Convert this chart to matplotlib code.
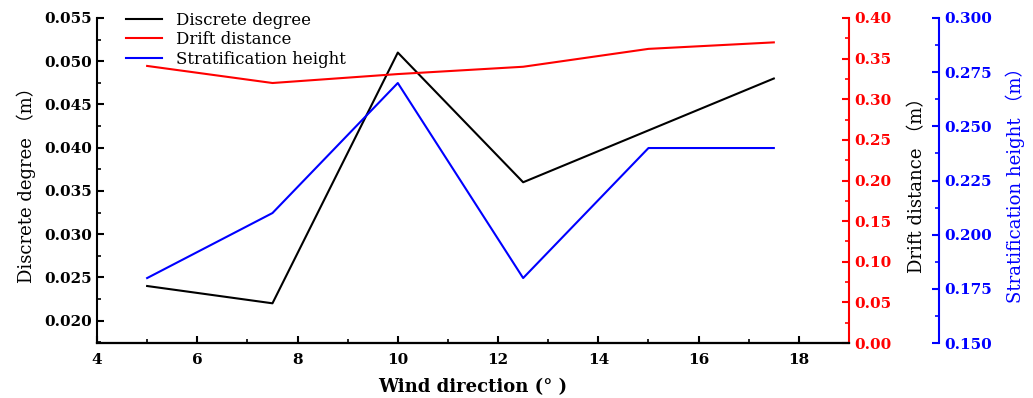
import matplotlib
matplotlib.use("Agg")
import matplotlib.pyplot as plt
from matplotlib.ticker import MultipleLocator, FormatStrFormatter

plt.rcParams['font.family'] = ['DejaVu Serif', 'Noto Sans CJK SC']

# Data
wind_dir_black = [5, 7.5, 10, 12.5, 17.5]
discrete_degree = [0.024, 0.022, 0.051, 0.036, 0.048]

wind_dir = [5, 7.5, 10, 12.5, 15, 17.5]
drift_distance = [0.341, 0.320, 0.331, 0.340, 0.362, 0.370]
strat_height = [0.180, 0.210, 0.270, 0.180, 0.240, 0.240]

x_ticks = [4, 6, 8, 10, 12, 14, 16, 18]

fig = plt.figure(figsize=(10.33, 3.98), dpi=100)
ax = fig.add_axes([0.0939, 0.138, 0.7280, 0.8168])
ax2 = ax.twinx()
ax3 = ax.twinx()
ax3.spines['right'].set_position(('axes', 1.1197))

l1, = ax.plot(wind_dir_black, discrete_degree, color='black', lw=1.5, label='Discrete degree')
l2, = ax2.plot(wind_dir, drift_distance, color='red', lw=1.5, label='Drift distance')
l3, = ax3.plot(wind_dir, strat_height, color='blue', lw=1.5, label='Stratification height')

ax.set_xlim(4, 19)
ax.set_ylim(0.0174, 0.055)
ax2.set_ylim(0, 0.40)
ax3.set_ylim(0.150, 0.300)

ax.set_xticks(x_ticks)
ax.xaxis.set_minor_locator(MultipleLocator(1))
ax.yaxis.set_major_locator(MultipleLocator(0.005))
ax.yaxis.set_minor_locator(MultipleLocator(0.0025))
ax.yaxis.set_major_formatter(FormatStrFormatter('%.3f'))
ax2.yaxis.set_major_locator(MultipleLocator(0.05))
ax2.yaxis.set_minor_locator(MultipleLocator(0.025))
ax2.yaxis.set_major_formatter(FormatStrFormatter('%.2f'))
ax3.yaxis.set_major_locator(MultipleLocator(0.025))
ax3.yaxis.set_minor_locator(MultipleLocator(0.0125))
ax3.yaxis.set_major_formatter(FormatStrFormatter('%.3f'))

for a in (ax, ax2, ax3):
    for s in a.spines.values():
        s.set_linewidth(1.5)
ax.spines['top'].set_visible(False)
ax2.spines['top'].set_visible(False)
ax3.spines['top'].set_visible(False)
ax2.spines['left'].set_visible(False)
ax3.spines['left'].set_visible(False)
ax.spines['right'].set_visible(False)
ax2.spines['right'].set_color('red')
ax3.spines['right'].set_color('blue')

ax.tick_params(axis='x', which='major', direction='in', length=5, width=1.5, labelsize=11, pad=7)
ax.tick_params(axis='y', which='major', direction='in', length=5, width=1.5, labelsize=11)
ax.tick_params(axis='both', which='minor', direction='in', length=3, width=1.2)
ax2.tick_params(axis='y', which='major', direction='in', length=5, width=1.5, colors='red', labelsize=11)
ax2.tick_params(axis='y', which='minor', direction='in', length=3, width=1.2, colors='red')
ax3.tick_params(axis='y', which='major', direction='in', length=5, width=1.5, colors='blue', labelsize=11)
ax3.tick_params(axis='y', which='minor', direction='in', length=3, width=1.2, colors='blue')
for a in (ax, ax2, ax3):
    for lab in a.get_xticklabels() + a.get_yticklabels():
        lab.set_fontweight('bold')

ax.set_xlabel('Wind direction (° )', fontsize=13, fontweight='bold', labelpad=8)
ax.set_ylabel('Discrete degree （m）', fontsize=13, labelpad=6)
ax2.set_ylabel('Drift distance （m）', fontsize=13, labelpad=12)
ax3.set_ylabel('Stratification height （m）', fontsize=13, color='blue', labelpad=10)

ax.legend(handles=[l1, l2, l3], loc='upper left', bbox_to_anchor=(0.025, 1.05),
          frameon=False, fontsize=12, handlelength=2.2, labelspacing=0.15,
          borderaxespad=0.2)

fig.savefig('out.png', dpi=100)
